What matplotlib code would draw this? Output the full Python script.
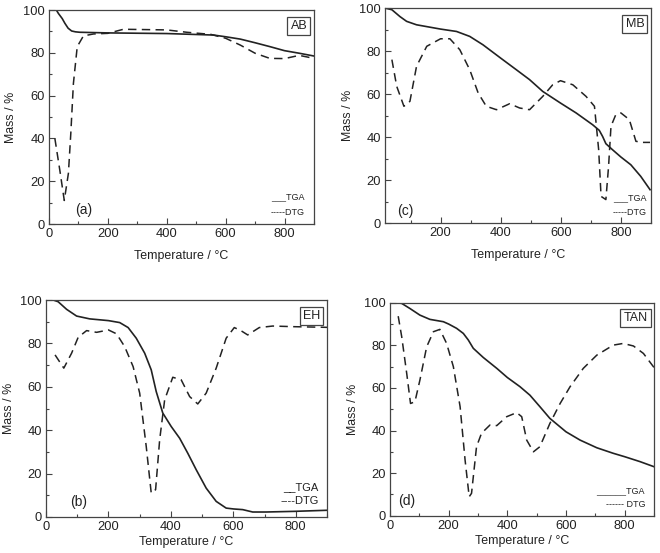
import matplotlib
matplotlib.use("Agg")
import matplotlib.pyplot as plt
from matplotlib.ticker import MultipleLocator

plt.rcParams['font.family'] = ['Liberation Sans', 'DejaVu Sans']

# ---------------- data (temperature °C, mass %) ----------------
ab_tga_t = [25, 32, 45, 54, 65, 77, 90, 105, 200, 400, 559, 600, 650, 700, 750, 800, 850, 900]
ab_tga_m = [100, 98.4, 96.0, 93.8, 91.5, 90.2, 89.8, 89.6, 89.3, 89.0, 88.3, 87.5, 86.4, 84.7, 82.9, 81.0, 79.8, 78.5]
ab_dtg_t = [20, 37, 52, 66, 74, 83, 96, 117, 151, 200, 253, 400, 468, 550, 600, 650, 700, 750, 800, 850, 900]
ab_dtg_m = [40, 25, 11, 23.7, 42, 65.7, 82.9, 87.9, 88.8, 89.1, 91.0, 90.7, 89.6, 88.6, 86.8, 83.6, 79.8, 77.4, 77.3, 78.8, 77.4]

mb_tga_t = [15, 38, 65, 87, 120, 200, 253, 297, 341, 400, 452, 496, 540, 599, 651, 706, 728, 739, 750, 772, 800, 833, 866, 897]
mb_tga_m = [100, 99.2, 96, 93.8, 92.2, 90.2, 89.1, 86.8, 82.9, 76.7, 71.3, 66.7, 61.2, 55.8, 51.2, 45.7, 43.1, 40.3, 36.9, 34.1, 30.7, 27.1, 21.7, 15.5]
mb_dtg_t = [38, 54, 78, 98, 120, 154, 200, 231, 264, 297, 325, 352, 386, 430, 463, 496, 540, 573, 599, 640, 684, 712,
            726, 734, 750, 759, 767, 783, 800, 828, 850, 872, 897]
mb_dtg_m = [76, 63.6, 54.3, 56.6, 72.9, 82.2, 85.7, 85.7, 80.6, 71.3, 60.5, 54.3, 52.7, 55.5, 53.5, 52.7, 58.9, 64.3, 66.2, 64.3, 58.9, 54.3,
            34.1, 12.4, 10.9, 26.4, 45, 50.4, 51.2, 48.1, 38, 37.5, 37.5]

eh_tga_t = [23, 39, 66, 98, 140, 200, 236, 263, 289, 316, 337, 353, 374, 401, 428, 454, 481, 513, 545, 577, 601, 630, 662, 704, 795, 900]
eh_tga_m = [100, 99.2, 95.7, 92.6, 91.3, 90.5, 89.6, 87.3, 82.4, 75.5, 67.8, 57.8, 47.9, 41.7, 36.3, 29.4, 21.8, 13.3, 7.2, 4.1, 3.7, 3.4, 2.3, 2.3, 2.6, 3.1]
eh_dtg_t = [29, 57, 82, 103, 130, 162, 200, 226, 252, 279, 300, 321, 337, 351, 364, 380, 406, 433, 460, 486, 513, 545, 577,
            603, 624, 646, 683, 726, 795, 900]
eh_dtg_m = [74.7, 68.6, 75.5, 82.8, 85.9, 85.1, 86.2, 84.4, 78.5, 69.3, 57.1, 32.5, 11, 12.6, 35.6, 54, 64.4, 63.2, 55.5, 52.1, 57.1, 68.6, 82.4,
            87.3, 85.9, 83.9, 87.3, 88, 87.7, 87.4]

tan_tga_t = [25, 40, 68, 102, 136, 182, 200, 227, 250, 267, 284, 318, 364, 400, 443, 477, 511, 545, 600, 648, 705, 761, 800, 852, 900]
tan_tga_m = [100, 99.7, 97.3, 94.2, 92.2, 91.1, 90, 88, 85.6, 82.5, 78.6, 74.3, 69.2, 64.9, 60.6, 56.6, 51.2, 45.7, 39.4, 35.5, 31.9, 29.3, 27.7, 25.4, 23]
tan_dtg_t = [28, 40, 57, 70, 85, 102, 125, 148, 170, 193, 216, 239, 256, 270, 278, 295, 312, 341, 364, 398, 432, 449, 466, 489,
             511, 545, 580, 614, 659, 705, 761, 795, 830, 864, 900]
tan_dtg_m = [93.7, 84, 66.8, 52.7, 53.5, 63.7, 79.3, 86.4, 87.5, 80.9, 70, 51.2, 26.1, 8.9, 10.5, 32.4, 38.7, 42.6, 42.3, 46.5, 48.4, 46.5, 35.5, 30,
             32.4, 43.3, 52.7, 60.6, 69.2, 75.4, 80.1, 80.9, 79.7, 76.2, 69.6]

panels = [
    dict(rect=[0.0742, 0.5949, 0.4015, 0.3870], xlim=(0, 900), tga=(ab_tga_t, ab_tga_m), dtg=(ab_dtg_t, ab_dtg_m),
         name="AB", tag="(a)", tagpos=(0.13, 0.065), leg=(0.966, 0.126, 0.056), legfs=6.5, tga_txt="___TGA", dtg_txt="-----DTG",
         xpad=7),
    dict(rect=[0.5833, 0.5967, 0.4030, 0.3888], xlim=(15, 900), tga=(mb_tga_t, mb_tga_m), dtg=(mb_dtg_t, mb_dtg_m),
         name="MB", tag="(c)", tagpos=(0.075, 0.056), leg=(0.985, 0.12, 0.05), legfs=6.5, tga_txt="___TGA", dtg_txt="-----DTG",
         xpad=7),
    dict(rect=[0.0697, 0.0651, 0.4258, 0.3924], xlim=(0, 900), tga=(eh_tga_t, eh_tga_m), dtg=(eh_dtg_t, eh_dtg_m),
         name="EH", tag="(b)", tagpos=(0.117, 0.069), leg=(0.97, 0.138, 0.074), legfs=8, tga_txt="__TGA", dtg_txt="----DTG",
         xpad=2),
    dict(rect=[0.5909, 0.0675, 0.4000, 0.3850], xlim=(0, 900), tga=(tan_tga_t, tan_tga_m), dtg=(tan_dtg_t, tan_dtg_m),
         name="TAN", tag="(d)", tagpos=(0.064, 0.07), leg=(0.966, 0.117, 0.052), legfs=6.5, tga_txt="______TGA", dtg_txt="------ DTG",
         xpad=2),
]

fig = plt.figure(figsize=(6.6, 5.53), dpi=100)
line_col = "#222222"
spine_col = "#444444"

for p in panels:
    ax = fig.add_axes(p["rect"])
    ax.plot(p["tga"][0], p["tga"][1], color=line_col, lw=1.2, solid_joinstyle="round")
    ax.plot(p["dtg"][0], p["dtg"][1], color=line_col, lw=1.1, linestyle=(0, (5.5, 3.5)))
    ax.set_xlim(*p["xlim"])
    ax.set_ylim(0, 100)
    ax.xaxis.set_major_locator(MultipleLocator(200))
    ax.xaxis.set_minor_locator(MultipleLocator(100))
    ax.yaxis.set_major_locator(MultipleLocator(20))
    ax.yaxis.set_minor_locator(MultipleLocator(10))
    ax.tick_params(which="major", direction="in", length=4, width=0.8, labelsize=9.3, colors=spine_col, labelcolor="#222222", pad=3)
    ax.tick_params(which="minor", direction="in", length=2.5, width=0.8, colors=spine_col)
    for s in ax.spines.values():
        s.set_color(spine_col)
        s.set_linewidth(0.9)
    ax.set_xlabel("Temperature / °C", fontsize=8.9, color="#222222", labelpad=p["xpad"])
    ax.set_ylabel("Mass / %", fontsize=8.9, color="#222222", labelpad=4)
    ax.text(0.975, 0.955, p["name"], transform=ax.transAxes, ha="right", va="top", fontsize=9, color="#222222",
            bbox=dict(boxstyle="square,pad=0.25", fc="white", ec=spine_col, lw=0.9))
    ax.text(p["tagpos"][0], p["tagpos"][1], p["tag"], transform=ax.transAxes, ha="center", va="center",
            fontsize=10, color="#222222")
    lx, ly1, ly2 = p["leg"]
    ax.text(lx, ly1, p["tga_txt"], transform=ax.transAxes, ha="right", va="center", fontsize=p["legfs"], color="#222222")
    ax.text(lx, ly2, p["dtg_txt"], transform=ax.transAxes, ha="right", va="center", fontsize=p["legfs"], color="#222222")

fig.savefig("out.png", dpi=100)
